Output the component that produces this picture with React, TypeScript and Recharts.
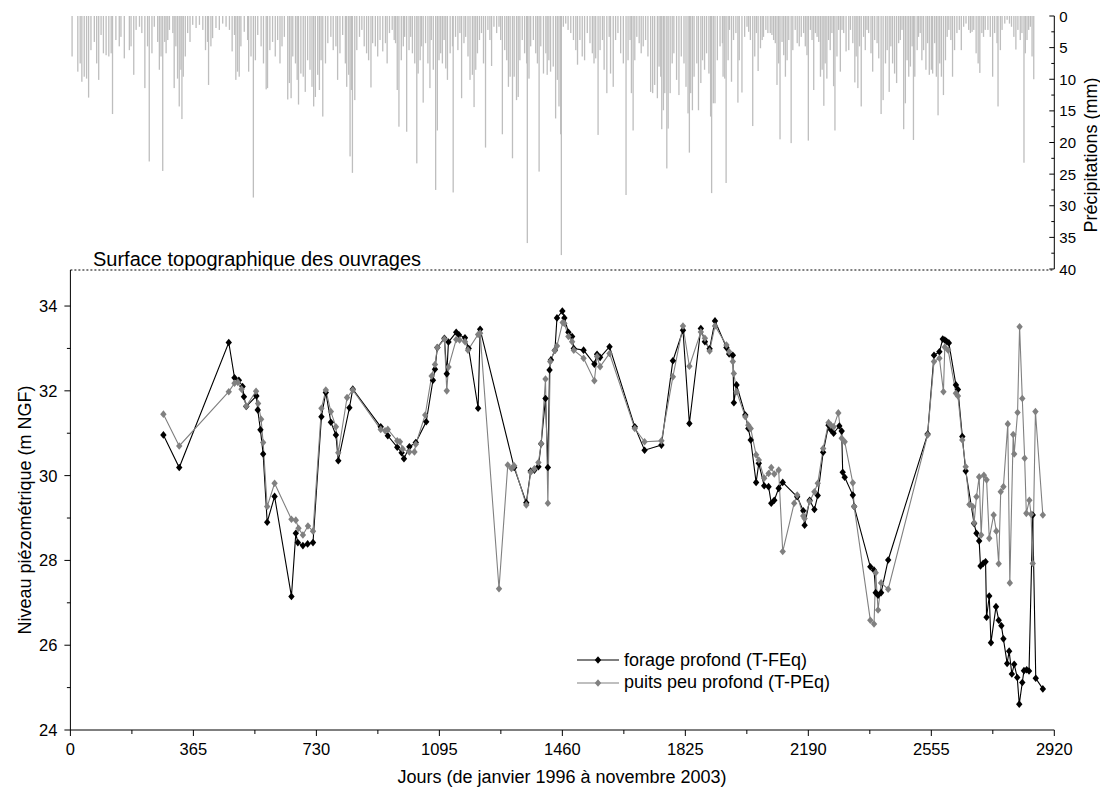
import React from "react";
import {
  BarChart,
  Bar,
  LineChart,
  Line,
  XAxis,
  YAxis,
  ReferenceLine,
  Legend,
} from "recharts";

const FONT = '"Liberation Sans", Arial, Helvetica, sans-serif';
const GRAY = "#808080";
const RAIN = "#bebebe";

// forage profond (T-FEq)
const forageDays = [
  276, 323, 470, 487, 500, 511, 515, 522, 552, 556, 564, 572, 584, 606, 656, 669, 675, 690, 704, 720,
  745, 758, 773, 788, 795, 828, 838, 921, 942, 970, 983, 990, 1006, 1025, 1056, 1076, 1082, 1089, 1110, 1117,
  1122, 1145, 1153, 1171, 1182, 1210, 1216, 1317, 1353, 1366, 1377, 1389, 1397, 1410, 1417, 1422, 1426, 1438, 1444, 1460,
  1466, 1478, 1489, 1494, 1523, 1555, 1563, 1572, 1600, 1675, 1704, 1754, 1788, 1818, 1837, 1871, 1883, 1897, 1913, 1947,
  1955, 1966, 1969, 1977, 2003, 2012, 2019, 2035, 2043, 2059, 2072, 2080, 2089, 2102, 2114, 2157, 2175, 2179, 2194, 2208,
  2218, 2234, 2250, 2257, 2265, 2282, 2289, 2292, 2298, 2322, 2326, 2374, 2385, 2390, 2397, 2406, 2427, 2544, 2563, 2579,
  2589, 2595, 2600, 2607, 2628, 2634, 2647, 2657, 2682, 2689, 2697, 2701, 2709, 2716, 2719, 2727, 2732, 2747, 2755, 2763,
  2769, 2780, 2786, 2794, 2801, 2810, 2816, 2825, 2830, 2838, 2845, 2856, 2865, 2886,
];
const forageLevels = [
  30.96, 30.19, 33.14, 32.31, 32.25, 32.1, 31.86, 31.63, 31.88, 31.55, 31.08, 30.51, 28.9, 29.51, 27.15, 28.64, 28.42, 28.35, 28.39, 28.42,
  31.39, 31.96, 31.26, 30.96, 30.35, 31.6, 32.04, 31.15, 30.94, 30.67, 30.54, 30.4, 30.68, 30.78, 31.27, 32.25, 32.51, 33.02, 33.24, 32.4,
  33.15, 33.38, 33.32, 33.25, 33.0, 31.59, 33.45, 30.19, 29.36, 30.11, 30.13, 30.21, 30.75, 31.82, 30.19, 32.49, 32.73, 32.96, 33.72, 33.88,
  33.72, 33.38, 33.28, 33.0, 32.96, 32.63, 32.86, 32.79, 33.04, 31.15, 30.6, 30.72, 32.71, 33.43, 31.23, 33.47, 33.16, 32.99, 33.65, 33.02,
  32.87, 32.84, 31.72, 32.14, 31.43, 31.11, 30.84, 29.84, 30.29, 29.76, 29.74, 29.35, 29.42, 29.7, 29.84, 29.5, 29.17, 28.83, 29.42, 29.2,
  29.53, 30.55, 31.19, 31.08, 31.0, 31.17, 31.05, 30.08, 29.96, 29.54, 29.27, 27.85, 27.77, 27.24, 27.18, 27.24, 28.01, 30.98, 32.84, 32.92,
  33.22, 33.2, 33.17, 33.13, 32.14, 32.03, 30.92, 30.11, 28.87, 28.64, 28.46, 27.87, 27.93, 27.97, 26.66, 27.16, 26.06, 26.91, 26.59, 26.46,
  26.15, 25.57, 25.86, 25.32, 25.55, 25.24, 24.61, 25.12, 25.4, 25.42, 25.39, 29.07, 25.22, 24.97,
];

// puits peu profond (T-PEq)
const puitsDays = [
  276, 323, 470, 487, 497, 508, 522, 551, 557, 566, 572, 584, 606, 656, 669, 677, 690, 705, 720, 745,
  758, 773, 788, 795, 821, 838, 921, 934, 942, 970, 978, 986, 1006, 1021, 1025, 1053, 1072, 1082, 1089, 1110,
  1117, 1122, 1145, 1155, 1171, 1180, 1210, 1216, 1272, 1298, 1309, 1317, 1353, 1366, 1377, 1389, 1397, 1410, 1417, 1424,
  1437, 1444, 1461, 1466, 1478, 1489, 1494, 1523, 1555, 1563, 1572, 1600, 1675, 1704, 1754, 1788, 1818, 1837, 1871, 1883,
  1897, 1913, 1947, 1955, 1966, 1969, 1977, 2003, 2012, 2019, 2035, 2043, 2059, 2072, 2080, 2089, 2102, 2114, 2148, 2157,
  2175, 2179, 2194, 2208, 2218, 2234, 2250, 2257, 2265, 2279, 2289, 2298, 2322, 2326, 2374, 2385, 2390, 2397, 2406, 2427,
  2544, 2563, 2579, 2591, 2595, 2605, 2628, 2634, 2647, 2657, 2668, 2678, 2682, 2689, 2697, 2703, 2711, 2719, 2727, 2740,
  2748, 2755, 2761, 2769, 2782, 2788, 2798, 2801, 2811, 2817, 2825, 2832, 2837, 2846, 2851, 2856, 2864, 2886,
];
const puitsLevels = [
  31.45, 30.7, 31.98, 32.18, 32.2, 32.04, 31.64, 31.99, 31.7, 31.33, 30.78, 29.27, 29.82, 28.97, 28.95, 28.76, 28.6, 28.81, 28.69, 31.59,
  32.02, 31.51, 31.15, 30.54, 31.84, 32.02, 31.09, 31.06, 31.09, 30.82, 30.8, 30.63, 30.56, 30.56, 30.74, 31.43, 32.35, 32.62, 33.02, 33.22,
  32.0, 32.56, 33.21, 33.2, 33.16, 32.96, 33.33, 33.36, 27.33, 30.25, 30.17, 30.23, 29.31, 30.08, 30.16, 30.31, 30.75, 32.28, 29.35, 32.69,
  32.95, 33.06, 33.61, 33.59, 33.28, 33.16, 32.96, 32.77, 32.24, 32.81, 32.57, 32.88, 31.11, 30.8, 30.82, 32.33, 33.53, 32.58, 33.39, 33.24,
  32.94, 33.53, 33.08, 32.92, 32.69, 32.41, 31.98, 31.39, 31.19, 31.11, 30.49, 30.37, 29.94, 30.05, 30.19, 30.04, 30.13, 28.21, 29.35, 29.54,
  29.05, 28.99, 29.39, 29.62, 29.82, 30.64, 31.25, 31.19, 31.15, 31.48, 30.88, 30.8, 29.83, 29.27, 26.59, 26.5, 27.71, 26.83, 27.47, 27.32,
  30.96, 32.69, 32.77, 31.98, 33.03, 32.96, 31.94, 31.88, 30.84, 30.21, 29.32, 29.27, 28.89, 29.5, 29.97, 28.6, 30.01, 29.9, 28.52, 29.07,
  28.69, 27.92, 29.62, 29.74, 31.22, 27.47, 30.97, 30.51, 31.49, 33.51, 31.82, 30.41, 29.11, 29.42, 29.09, 27.93, 31.51, 29.07,
];

// precipitations (mm), jours
const rainDays = [
  5, 22, 29, 34, 41, 48, 54, 61, 71, 78, 84, 91, 98, 106, 114, 121, 125, 135, 145, 150,
  160, 175, 180, 188, 195, 205, 212, 221, 229, 234, 242, 249, 259, 264, 269, 274, 280, 284, 289, 294,
  304, 308, 313, 318, 323, 328, 331, 335, 341, 348, 355, 363, 373, 383, 393, 401, 407, 410, 417, 422,
  432, 442, 452, 462, 472, 480, 487, 491, 496, 501, 506, 516, 526, 529, 536, 543, 549, 556, 566, 573,
  581, 585, 592, 600, 608, 615, 622, 628, 635, 645, 650, 655, 660, 668, 673, 677, 684, 691, 697, 704,
  711, 717, 722, 727, 734, 739, 744, 749, 757, 764, 773, 780, 788, 793, 800, 808, 816, 820, 826, 830,
  834, 837, 844, 850, 858, 865, 872, 879, 885, 892, 897, 905, 912, 919, 927, 935, 940, 947, 955, 961,
  965, 970, 975, 982, 988, 992, 998, 1005, 1010, 1015, 1022, 1028, 1032, 1038, 1042, 1047, 1054, 1061, 1067, 1071,
  1077, 1084, 1089, 1094, 1099, 1104, 1109, 1114, 1119, 1127, 1134, 1136, 1143, 1150, 1156, 1161, 1168, 1173, 1180, 1186,
  1193, 1198, 1203, 1208, 1214, 1220, 1226, 1232, 1239, 1245, 1250, 1257, 1265, 1272, 1277, 1282, 1289, 1295, 1300, 1305,
  1312, 1317, 1324, 1329, 1334, 1341, 1348, 1354, 1356, 1361, 1366, 1374, 1381, 1386, 1391, 1396, 1404, 1411, 1415, 1420,
  1425, 1433, 1440, 1445, 1450, 1455, 1457, 1463, 1470, 1477, 1485, 1493, 1500, 1505, 1512, 1519, 1526, 1534, 1542, 1549,
  1554, 1559, 1566, 1572, 1579, 1584, 1592, 1599, 1603, 1611, 1618, 1625, 1633, 1641, 1649, 1655, 1661, 1665, 1670, 1675,
  1681, 1688, 1694, 1700, 1707, 1714, 1722, 1728, 1734, 1742, 1747, 1752, 1755, 1760, 1764, 1770, 1774, 1780, 1786, 1791,
  1799, 1806, 1813, 1821, 1827, 1833, 1837, 1841, 1846, 1851, 1859, 1864, 1871, 1876, 1882, 1888, 1895, 1900, 1903, 1908,
  1913, 1920, 1928, 1935, 1937, 1942, 1946, 1952, 1956, 1962, 1968, 1975, 1981, 1985, 1993, 2001, 2008, 2013, 2018, 2025,
  2031, 2036, 2041, 2048, 2053, 2057, 2064, 2070, 2077, 2082, 2087, 2092, 2097, 2102, 2106, 2112, 2117, 2122, 2127, 2132,
  2139, 2144, 2151, 2157, 2163, 2169, 2176, 2181, 2186, 2190, 2196, 2201, 2206, 2211, 2216, 2221, 2226, 2231, 2236, 2240,
  2245, 2250, 2255, 2260, 2265, 2269, 2275, 2280, 2285, 2290, 2295, 2302, 2310, 2315, 2322, 2328, 2332, 2337, 2342, 2347,
  2354, 2359, 2364, 2369, 2376, 2381, 2387, 2394, 2399, 2406, 2412, 2419, 2424, 2430, 2435, 2440, 2446, 2452, 2458, 2463,
  2468, 2473, 2478, 2483, 2488, 2493, 2498, 2502, 2506, 2513, 2517, 2522, 2527, 2532, 2539, 2544, 2549, 2555, 2559, 2565,
  2570, 2575, 2580, 2585, 2591, 2597, 2602, 2607, 2613, 2618, 2624, 2631, 2638, 2644, 2651, 2658, 2666, 2671, 2676, 2681,
  2688, 2694, 2699, 2705, 2710, 2715, 2723, 2730, 2737, 2743, 2750, 2753, 2760, 2765, 2773, 2780, 2787, 2793, 2800, 2806,
  2812, 2819, 2824, 2830, 2834, 2839, 2844, 2849, 2854, 2859,
];
const rainMm = [
  6.4, 8.8, 7.5, 10.4, 9.6, 9.9, 12.9, 5.4, 4.1, 7.5, 10.1, 3.0, 5.9, 6.2, 6.4, 5.9, 15.5, 3.8, 4.8, 3.3,
  6.7, 5.4, 4.8, 9.3, 2.2, 1.7, 2.7, 11.4, 4.8, 23.0, 5.9, 1.7, 4.1, 8.5, 6.4, 24.5, 4.1, 5.9, 3.8, 2.2,
  2.7, 11.4, 4.8, 9.9, 14.3, 8.5, 16.3, 9.6, 6.4, 2.7, 4.1, 1.4, 1.9, 1.4, 2.2, 5.4, 4.1, 10.9, 4.8, 3.5,
  1.9, 2.2, 1.2, 1.7, 2.2, 5.6, 3.0, 10.1, 8.8, 9.6, 4.8, 2.5, 3.8, 8.8, 6.4, 28.7, 7.0, 3.0, 4.8, 7.5,
  11.6, 11.4, 5.4, 4.1, 6.4, 3.8, 7.5, 4.8, 3.3, 13.2, 10.6, 13.0, 6.4, 7.5, 10.1, 14.0, 9.1, 9.6, 12.0, 7.0,
  8.5, 11.2, 14.3, 12.8, 9.3, 11.7, 7.0, 15.9, 7.5, 4.3, 3.3, 5.4, 4.8, 10.1, 5.9, 3.0, 7.5, 11.2, 9.3, 22.2,
  11.7, 24.8, 13.3, 5.4, 3.3, 2.2, 4.8, 5.9, 7.0, 11.3, 4.3, 4.8, 6.4, 3.8, 5.6, 4.3, 7.5, 2.7, 2.2, 3.8,
  4.3, 11.7, 17.5, 7.0, 4.8, 3.3, 18.3, 5.4, 3.3, 5.9, 7.5, 23.3, 9.1, 7.0, 4.8, 13.7, 4.3, 7.5, 11.4, 3.8,
  8.5, 27.5, 18.1, 7.0, 5.9, 7.5, 3.8, 8.3, 10.1, 5.9, 4.8, 27.9, 3.3, 5.4, 2.7, 13.0, 4.3, 3.3, 6.4, 10.1,
  9.3, 14.4, 8.5, 5.9, 3.8, 2.7, 7.5, 20.8, 2.2, 3.8, 7.9, 1.7, 2.7, 1.7, 3.8, 18.7, 5.4, 7.0, 11.2, 9.6,
  22.5, 9.6, 13.3, 12.8, 7.0, 3.8, 5.9, 7.5, 35.9, 9.9, 4.8, 3.8, 5.9, 7.5, 24.6, 4.8, 9.1, 5.9, 9.3, 7.0,
  8.8, 8.0, 16.2, 10.1, 14.3, 18.7, 37.8, 1.7, 1.2, 2.2, 2.7, 3.8, 5.4, 7.7, 3.8, 6.4, 7.0, 2.7, 4.3, 5.9,
  7.5, 6.7, 18.8, 5.4, 3.8, 8.5, 12.2, 3.3, 9.1, 11.2, 3.8, 2.7, 5.9, 7.5, 28.3, 7.0, 3.8, 12.2, 18.1, 7.0,
  3.3, 4.3, 5.9, 4.8, 3.8, 6.4, 12.0, 12.2, 10.9, 13.0, 8.0, 9.6, 17.9, 14.9, 12.2, 24.1, 17.8, 12.2, 7.5, 5.9,
  10.1, 12.5, 6.4, 7.5, 11.2, 15.4, 21.6, 12.2, 14.9, 9.6, 7.5, 14.9, 10.6, 7.0, 8.5, 5.9, 9.1, 15.9, 28.0, 13.8,
  13.8, 7.0, 4.8, 4.3, 9.6, 9.9, 26.4, 7.0, 2.2, 10.4, 3.8, 2.7, 13.7, 7.0, 12.1, 3.3, 1.7, 2.5, 3.8, 17.4,
  6.4, 2.7, 8.7, 5.1, 3.8, 3.3, 2.2, 2.7, 2.7, 3.0, 3.8, 4.3, 10.9, 7.5, 19.5, 4.1, 6.2, 9.6, 7.0, 3.8,
  20.1, 5.4, 2.2, 4.3, 4.8, 3.3, 2.7, 4.8, 6.2, 19.7, 2.2, 3.8, 11.7, 2.7, 3.3, 4.1, 9.6, 8.5, 14.2, 7.5,
  9.9, 3.8, 5.4, 2.7, 11.1, 18.1, 6.4, 2.2, 8.8, 2.2, 2.7, 5.6, 5.4, 2.2, 4.3, 10.5, 6.4, 11.4, 4.8, 14.3,
  3.3, 5.4, 2.2, 2.7, 5.9, 8.8, 3.8, 4.3, 6.7, 15.5, 13.3, 7.5, 5.4, 12.0, 4.8, 7.5, 9.1, 10.6, 4.3, 3.8,
  2.2, 17.9, 13.8, 7.0, 9.6, 8.0, 4.8, 19.6, 9.6, 5.4, 3.3, 2.7, 7.0, 5.4, 8.5, 4.3, 9.3, 8.5, 9.1, 4.3,
  9.6, 15.7, 7.5, 9.6, 12.5, 7.0, 3.3, 2.2, 3.8, 9.6, 5.4, 2.7, 2.2, 5.4, 1.7, 1.2, 2.2, 2.7, 2.5, 2.2,
  5.9, 7.5, 9.0, 2.7, 3.3, 2.2, 2.2, 3.3, 9.6, 2.7, 4.3, 14.3, 5.4, 2.2, 1.2, 0.6, 1.2, 1.7, 3.3, 5.3,
  2.2, 3.8, 2.7, 23.2, 5.9, 3.8, 2.2, 1.7, 6.4, 10.0,
];

const dayTicks = [0, 365, 730, 1095, 1460, 1825, 2190, 2555, 2920];
const dayMinorTicks = [182.5, 547.5, 912.5, 1277.5, 1642.5, 2007.5, 2372.5, 2737.5];
const levelTicks = [24, 26, 28, 30, 32, 34];
const levelMinorTicks = [25, 27, 29, 31, 33];
const rainTicks = [0, 5, 10, 15, 20, 25, 30, 35, 40];
const rainMinorTicks = [2.5, 7.5, 12.5, 17.5, 22.5, 27.5, 32.5, 37.5];
const groundLevel = 34.85;

const forage = forageDays.map((d, i) => ({ day: d, level: forageLevels[i] }));
const puits = puitsDays.map((d, i) => ({ day: d, level: puitsLevels[i] }));
const rain = rainDays.map((d, i) => ({ day: d, mm: rainMm[i] }));

const byValue = (a: number, b: number) => a - b;

function Title({ tx, ty, text, size, rotate, anchor = "middle" }: any) {
  return (
    <text
      x={tx}
      y={ty}
      textAnchor={anchor}
      fontSize={size}
      fill="#000"
      fontFamily={FONT}
      dominantBaseline={rotate ? "central" : undefined}
      transform={rotate ? `rotate(-90 ${tx} ${ty})` : undefined}
    >
      {text}
    </text>
  );
}

function DayTick({ x, y, payload }: any) {
  const major = dayTicks.includes(payload.value);
  return (
    <g>
      <line x1={x} y1={y} x2={x} y2={y + (major ? 6 : 4)} stroke="#000" />
      {major && (
        <text x={x} y={y + 25} textAnchor="middle" fontSize={16.5} fill="#000" fontFamily={FONT}>
          {payload.value}
        </text>
      )}
    </g>
  );
}

function LevelTick({ x, y, payload }: any) {
  const major = levelTicks.includes(payload.value);
  return (
    <g>
      <line x1={x - (major ? 6 : 3.5)} y1={y} x2={x} y2={y} stroke="#000" />
      {major && (
        <text x={x - 13} y={y + 6} textAnchor="end" fontSize={16.5} fill="#000" fontFamily={FONT}>
          {payload.value}
        </text>
      )}
    </g>
  );
}

function RainTick({ x, y, payload }: any) {
  const major = rainTicks.includes(payload.value);
  return (
    <g>
      <line x1={x - (major ? 5 : 3)} y1={y} x2={x} y2={y} stroke="#000" />
      {major && (
        <text x={x + 5} y={y + 5.5} textAnchor="start" fontSize={15} fill="#000" fontFamily={FONT}>
          {payload.value}
        </text>
      )}
    </g>
  );
}

// thin hanging bar centred on its day
function RainBar(props: any) {
  const { x, y, width, height, fill } = props;
  if (x == null || y == null) return null;
  const top = Math.min(y, y + height);
  const h = Math.abs(height);
  const w = 1.3;
  return <rect x={x + width / 2 - w / 2} y={top} width={w} height={h} fill={fill} />;
}

const diamond = (color: string) => (props: any) => {
  const { cx, cy, index } = props;
  if (cx == null || cy == null) return <g key={index} />;
  return (
    <path
      key={index}
      d={`M${cx},${cy - 3.8}L${cx + 3.2},${cy}L${cx},${cy + 3.8}L${cx - 3.2},${cy}Z`}
      fill={color}
    />
  );
};

function LegendBox({ payload }: any) {
  return (
    <div style={{ fontFamily: FONT, fontSize: 18, color: "#000" }}>
      {(payload || []).map((p: any) => (
        <div key={p.value} style={{ display: "flex", alignItems: "center", height: 22.6 }}>
          <svg width={42} height={10} style={{ display: "block" }}>
            <line x1={0} y1={5} x2={42} y2={5} stroke={p.color} strokeWidth={1.2} />
            <path d="M21,1.2L24.2,5L21,8.8L17.8,5Z" fill={p.color} />
          </svg>
          <span style={{ marginLeft: 5, whiteSpace: "nowrap" }}>{p.value}</span>
        </div>
      ))}
    </div>
  );
}

export default function App() {
  return (
    <div
      style={{
        position: "absolute",
        left: 0,
        top: 0,
        width: 1100,
        height: 787,
        background: "#fff",
        fontFamily: FONT,
      }}
    >
      <div style={{ position: "absolute", left: 0, top: 0 }}>
        <LineChart width={1100} height={787} margin={{ top: 270, right: 45.7, bottom: 0, left: 0 }}>
          <XAxis
            dataKey="day"
            type="number"
            domain={[0, 2920]}
            ticks={[...dayTicks, ...dayMinorTicks].sort(byValue)}
            interval={0}
            height={57}
            tickSize={0}
            tickMargin={0}
            tickLine={false}
            tick={<DayTick />}
            axisLine={{ stroke: "#000" }}
            allowDataOverflow
            label={<Title tx={562} ty={783} size={18} text="Jours (de janvier 1996 à novembre 2003)" />}
          />
          <YAxis
            type="number"
            domain={[24, groundLevel]}
            ticks={[...levelTicks, ...levelMinorTicks].sort(byValue)}
            interval={0}
            width={70.4}
            tickSize={0}
            tickMargin={0}
            tickLine={false}
            tick={<LevelTick />}
            axisLine={{ stroke: "#000" }}
            allowDataOverflow
            label={<Title tx={25} ty={510} size={18} rotate text="Niveau piézométrique (m NGF)" />}
          />
          <ReferenceLine
            y={groundLevel}
            stroke="#000"
            strokeWidth={1}
            strokeDasharray="2 2"
            label={<Title tx={93} ty={266} size={20} anchor="start" text="Surface topographique des ouvrages" />}
          />
          <Line
            data={forage}
            dataKey="level"
            name="forage profond (T-FEq)"
            type="linear"
            stroke="#000"
            strokeWidth={1.1}
            dot={diamond("#000")}
            activeDot={false}
            isAnimationActive={false}
          />
          <Line
            data={puits}
            dataKey="level"
            name="puits peu profond (T-PEq)"
            type="linear"
            stroke={GRAY}
            strokeWidth={1.1}
            dot={diamond(GRAY)}
            activeDot={false}
            isAnimationActive={false}
          />
          <Legend
            layout="vertical"
            align="center"
            verticalAlign="middle"
            content={<LegendBox />}
            wrapperStyle={{ left: 577, top: 649, width: 320 }}
          />
        </LineChart>
      </div>
      <div style={{ position: "absolute", left: 0, top: 0 }}>
        <BarChart width={1100} height={300} data={rain} margin={{ top: 16, right: 0, bottom: 31, left: 70.4 }}>
          <XAxis dataKey="day" type="number" domain={[0, 2920]} hide />
          <YAxis
            orientation="right"
            type="number"
            reversed
            domain={[0, 40]}
            ticks={[...rainTicks, ...rainMinorTicks].sort(byValue)}
            interval={0}
            width={45.7}
            tickSize={0}
            tickMargin={0}
            tickLine={false}
            tick={<RainTick />}
            axisLine={{ stroke: "#000" }}
            label={<Title tx={1091} ty={155} size={18} rotate text="Précipitations (mm)" />}
          />
          <Bar dataKey="mm" fill={RAIN} shape={<RainBar />} isAnimationActive={false} />
        </BarChart>
      </div>
    </div>
  );
}
